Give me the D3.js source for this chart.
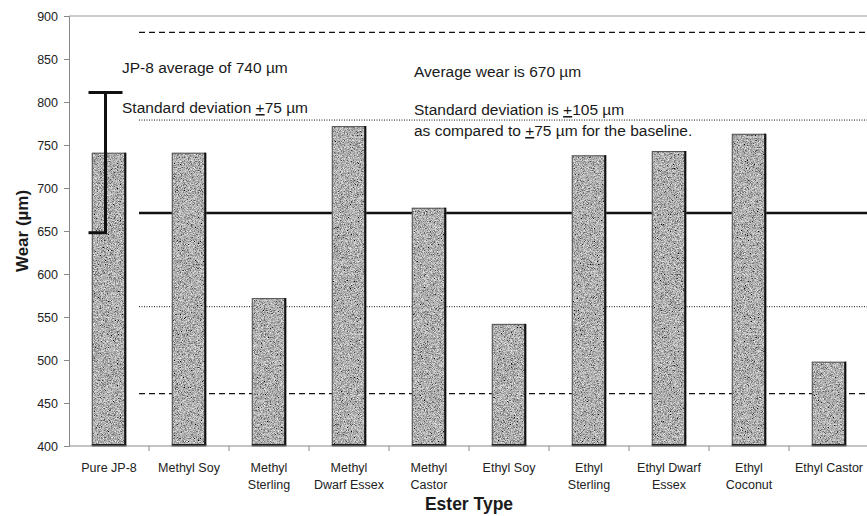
<!DOCTYPE html>
<html>
<head>
<meta charset="utf-8">
<script src="https://cdn.jsdelivr.net/npm/d3@7"></script>
<style>
  html, body { margin: 0; padding: 0; background: #fff; }
  svg { display: block; font-family: "Liberation Sans", Arial, sans-serif; }
</style>
</head>
<body>
<svg id="chart" width="867" height="516"></svg>
<script>
// Wear per ester type (µm)
const categories = [
  ["Pure JP-8"], ["Methyl Soy"], ["Methyl", "Sterling"], ["Methyl", "Dwarf Essex"],
  ["Methyl", "Castor"], ["Ethyl Soy"], ["Ethyl", "Sterling"], ["Ethyl Dwarf", "Essex"],
  ["Ethyl", "Coconut"], ["Ethyl Castor"]
];
const wear = [741, 741, 572, 772, 677, 542, 738, 743, 763, 498];

// Baseline error bar (JP-8)
const baselineLow = 648;
const baselineHigh = 811;

// Horizontal reference lines for the ester average and spreads
const refLines = [
  { value: 881, dash: "6,4", width: 1.2 },
  { value: 779, dash: "1,1.5", width: 1 },
  { value: 671, dash: null, width: 2.6 },
  { value: 562, dash: "1,1.5", width: 1 },
  { value: 461, dash: "6,4", width: 1.2 }
];

const yTicks = [400, 450, 500, 550, 600, 650, 700, 750, 800, 850, 900];

const svg = d3.select("#chart");
const mLeft = 69, mRight = 869, mTop = 16, mBottom = 446;

const x = d3.scaleBand().domain(d3.range(categories.length)).range([mLeft, mRight]).padding(0);
const y = d3.scaleLinear().domain([400, 900]).range([mBottom, mTop]);
const barW = x.bandwidth() * 0.43;

// Grain texture for the bars
const defs = svg.append("defs");
const f = defs.append("filter").attr("id", "grain")
  .attr("x", 0).attr("y", 0).attr("width", 1).attr("height", 1);
f.append("feTurbulence").attr("type", "fractalNoise").attr("baseFrequency", 1.3)
  .attr("numOctaves", 2).attr("seed", 7).attr("result", "noise");
f.append("feColorMatrix").attr("in", "noise").attr("type", "matrix")
  .attr("values", "1.4 0 0 0 -0.27  1.4 0 0 0 -0.27  1.4 0 0 0 -0.27  0 0 0 0 1")
  .attr("result", "gray");
f.append("feComposite").attr("in", "gray").attr("in2", "SourceGraphic").attr("operator", "in");

// Frame: top border
svg.append("line").attr("x1", mLeft).attr("x2", 867).attr("y1", mTop).attr("y2", mTop)
  .attr("stroke", "#999").attr("stroke-width", 1);

// Y axis
const yAxis = d3.axisLeft(y).tickValues(yTicks).tickSize(5).tickPadding(6);
const gy = svg.append("g").attr("transform", `translate(${mLeft},0)`).call(yAxis);
gy.select(".domain").attr("stroke", "#888");
gy.selectAll(".tick line").attr("stroke", "#888");
gy.selectAll(".tick text").attr("font-size", 12.5).attr("fill", "#222")
  .attr("font-family", "Liberation Sans, Arial, sans-serif");

// Reference lines (drawn behind the bars)
const refStart = x(0) + 70;
svg.append("g").selectAll("line").data(refLines).join("line")
  .attr("x1", refStart).attr("x2", 867)
  .attr("y1", d => y(d.value)).attr("y2", d => y(d.value))
  .attr("stroke", "#111").attr("stroke-width", d => d.width)
  .attr("stroke-dasharray", d => d.dash);

// Bars
const barX = i => x(i) + x.bandwidth() / 2 - barW / 2;
svg.append("g").selectAll("rect").data(wear).join("rect")
  .attr("x", (d, i) => barX(i)).attr("width", barW)
  .attr("y", d => y(d)).attr("height", d => mBottom - y(d))
  .attr("fill", "#888").attr("filter", "url(#grain)");
svg.append("g").selectAll("rect").data(wear).join("rect")
  .attr("x", (d, i) => barX(i) + 0.5).attr("width", barW - 1)
  .attr("y", d => y(d) + 0.5).attr("height", d => mBottom - y(d) - 0.5)
  .attr("fill", "none").attr("stroke", "#555").attr("stroke-width", 1);
svg.append("g").selectAll("line").data(wear).join("line")
  .attr("x1", (d, i) => barX(i) + barW - 1).attr("x2", (d, i) => barX(i) + barW - 1)
  .attr("y1", d => y(d)).attr("y2", mBottom)
  .attr("stroke", "#111").attr("stroke-width", 2);
svg.append("g").selectAll("line").data(wear).join("line")
  .attr("x1", (d, i) => barX(i)).attr("x2", (d, i) => barX(i) + barW)
  .attr("y1", mBottom - 1).attr("y2", mBottom - 1)
  .attr("stroke", "#222").attr("stroke-width", 2);

// X axis
const gx = svg.append("g").attr("transform", `translate(0,${mBottom})`);
gx.append("line").attr("x1", mLeft).attr("x2", 867).attr("stroke", "#888");
gx.selectAll(".tk").data(d3.range(1, categories.length)).join("line")
  .attr("x1", i => x(i)).attr("x2", i => x(i)).attr("y1", 0).attr("y2", 5)
  .attr("stroke", "#888");
const lab = svg.append("g").selectAll("text").data(categories).join("text")
  .attr("x", (d, i) => x(i) + x.bandwidth() / 2).attr("y", 472)
  .attr("text-anchor", "middle").attr("font-size", 12.5).attr("fill", "#222");
lab.selectAll("tspan").data(d => d).join("tspan")
  .attr("x", function () { return d3.select(this.parentNode).attr("x"); })
  .attr("dy", (d, j) => j === 0 ? 0 : 17).text(d => d);

// Baseline error bar
const ex = x(0) + x.bandwidth() / 2 - 3.5;
const eb = svg.append("g").attr("stroke", "#111").attr("stroke-width", 3).attr("fill", "none");
eb.append("line").attr("x1", ex).attr("x2", ex).attr("y1", y(baselineHigh)).attr("y2", y(baselineLow));
eb.append("line").attr("x1", ex - 17).attr("x2", ex + 17).attr("y1", y(baselineHigh)).attr("y2", y(baselineHigh));
eb.append("line").attr("x1", ex - 17).attr("x2", ex + 1.5).attr("y1", y(baselineLow)).attr("y2", y(baselineLow));

// Annotations
function note(xp, yp, parts) {
  const t = svg.append("text").attr("x", xp).attr("y", yp)
    .attr("font-size", 15.5).attr("fill", "#1a1a1a");
  parts.forEach(p => {
    const s = t.append("tspan").text(p.t);
    if (p.u) s.attr("text-decoration", "underline");
  });
}
note(122, 73, [{ t: "JP-8 average of 740 µm" }]);
note(122, 113, [{ t: "Standard deviation " }, { t: "+", u: true }, { t: "75 µm" }]);
note(414, 77, [{ t: "Average wear is 670 µm" }]);
note(414, 115, [{ t: "Standard deviation is " }, { t: "+", u: true }, { t: "105 µm" }]);
note(414, 136, [{ t: "as compared to " }, { t: "+", u: true }, { t: "75 µm for the baseline." }]);

// Axis titles
svg.append("text").attr("transform", `translate(28,${(mTop + mBottom) / 2}) rotate(-90)`)
  .attr("text-anchor", "middle").attr("font-size", 17).attr("font-weight", "bold")
  .attr("fill", "#1a1a1a").text("Wear (µm)");
svg.append("text").attr("x", 469).attr("y", 510).attr("text-anchor", "middle")
  .attr("font-size", 17.5).attr("font-weight", "bold").attr("fill", "#1a1a1a").text("Ester Type");
</script>
</body>
</html>
